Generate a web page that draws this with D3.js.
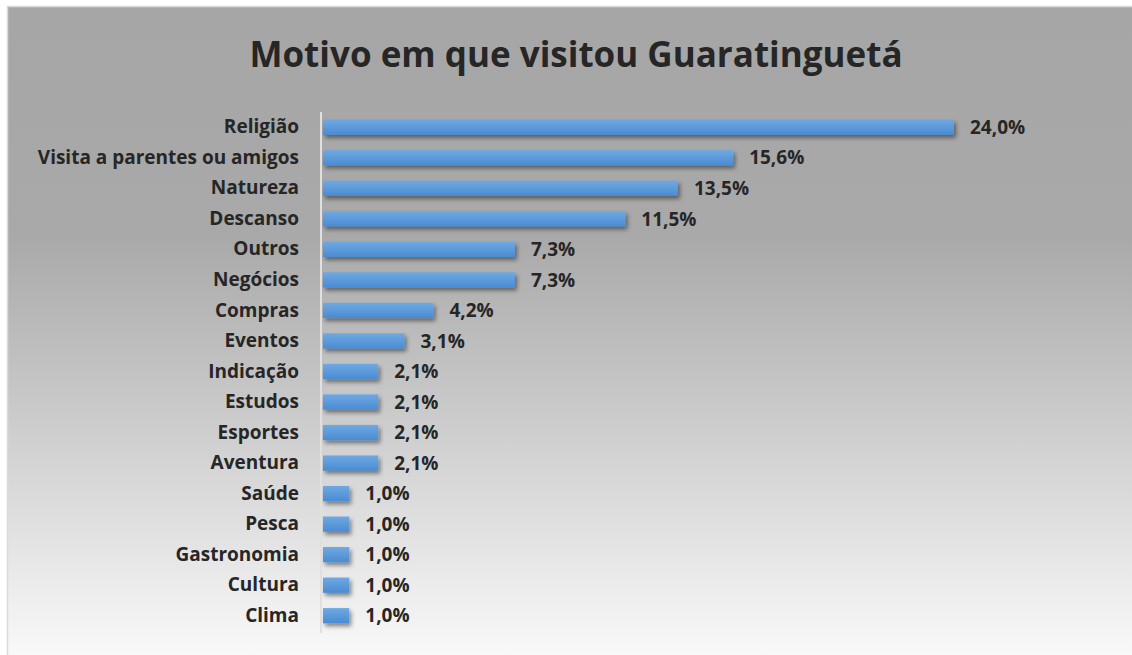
<!DOCTYPE html>
<html lang="pt">
<head>
<meta charset="UTF-8">
<title>Motivo em que visitou Guaratinguetá</title>
<script src="https://d3js.org/d3.v7.min.js"></script>
<style>
  body { margin: 0; background: #fff; }
  svg text { font-family: "Open Sans", Lato, sans-serif; }
</style>
</head>
<body>
<svg width="1132" height="655"></svg>
<script>
// data
const categories = ["Religião", "Visita a parentes ou amigos", "Natureza", "Descanso", "Outros",
  "Negócios", "Compras", "Eventos", "Indicação", "Estudos", "Esportes", "Aventura",
  "Saúde", "Pesca", "Gastronomia", "Cultura", "Clima"];
const values = [24.0, 15.6, 13.5, 11.5, 7.3, 7.3, 4.2, 3.1, 2.1, 2.1, 2.1, 2.1, 1.0, 1.0, 1.0, 1.0, 1.0];
const title = "Motivo em que visitou Guaratinguetá";

const svg = d3.select("svg");
const defs = svg.append("defs");

// background gradient (grey at top, near white at bottom)
const bg = defs.append("linearGradient").attr("id", "bg")
    .attr("x1", 0).attr("y1", 0).attr("x2", 0).attr("y2", 1);
bg.append("stop").attr("offset", "0%").attr("stop-color", "#a6a6a6");
bg.append("stop").attr("offset", "35%").attr("stop-color", "#a9a9a9");
bg.append("stop").attr("offset", "100%").attr("stop-color", "#fbfbfb");

// bar gradient
const bar = defs.append("linearGradient").attr("id", "bar")
    .attr("x1", 0).attr("y1", 0).attr("x2", 0).attr("y2", 1);
bar.append("stop").attr("offset", "0%").attr("stop-color", "#6fa9e2");
bar.append("stop").attr("offset", "100%").attr("stop-color", "#4a8bd2");

const shadow = defs.append("filter").attr("id", "shadow")
    .attr("x", "-10%").attr("y", "-30%").attr("width", "130%").attr("height", "200%");
shadow.append("feDropShadow").attr("dx", 2).attr("dy", 3).attr("stdDeviation", 2.2)
    .attr("flood-color", "#000").attr("flood-opacity", 0.45);

// chart area
svg.append("rect")
    .attr("x", 7.5).attr("y", 6.5).attr("width", 1130).attr("height", 660)
    .attr("fill", "url(#bg)").attr("stroke", "#d9d9d9").attr("stroke-width", 1.5);

svg.append("text")
    .attr("x", 576).attr("y", 67)
    .attr("text-anchor", "middle")
    .attr("font-size", "35px").attr("font-weight", "bold")
    .attr("fill", "#262626")
    .text(title);

const x = d3.scaleLinear().domain([0, 24]).range([323, 954]);
const y = d3.scaleBand().domain(categories).range([112, 631]).paddingInner(0.5).paddingOuter(0.25);

// bars
svg.append("g").attr("filter", "url(#shadow)")
  .selectAll("rect")
  .data(values)
  .join("rect")
    .attr("x", x(0))
    .attr("y", (d, i) => y(categories[i]))
    .attr("width", d => x(d) - x(0))
    .attr("height", y.bandwidth())
    .attr("fill", "url(#bar)");

// vertical axis line
svg.append("line")
    .attr("x1", 321).attr("x2", 321).attr("y1", 112).attr("y2", 633)
    .attr("stroke", "#e0e0e0").attr("stroke-width", 2);

// category labels
const yAxis = svg.append("g")
    .attr("transform", "translate(321,0)")
    .call(d3.axisLeft(y).tickSize(0).tickPadding(22));
yAxis.select(".domain").remove();
yAxis.selectAll("text")
    .attr("font-family", "'Open Sans', Lato, sans-serif")
    .attr("font-size", "19px").attr("font-weight", "bold")
    .attr("fill", "#262626");

// value labels
svg.append("g")
  .selectAll("text")
  .data(values)
  .join("text")
    .attr("x", d => x(d) + 16)
    .attr("y", (d, i) => y(categories[i]) + y.bandwidth() / 2)
    .attr("dy", "0.35em")
    .attr("font-size", "19px").attr("font-weight", "bold")
    .attr("fill", "#262626")
    .text(d => d.toFixed(1).replace(".", ",") + "%");
</script>
</body>
</html>
